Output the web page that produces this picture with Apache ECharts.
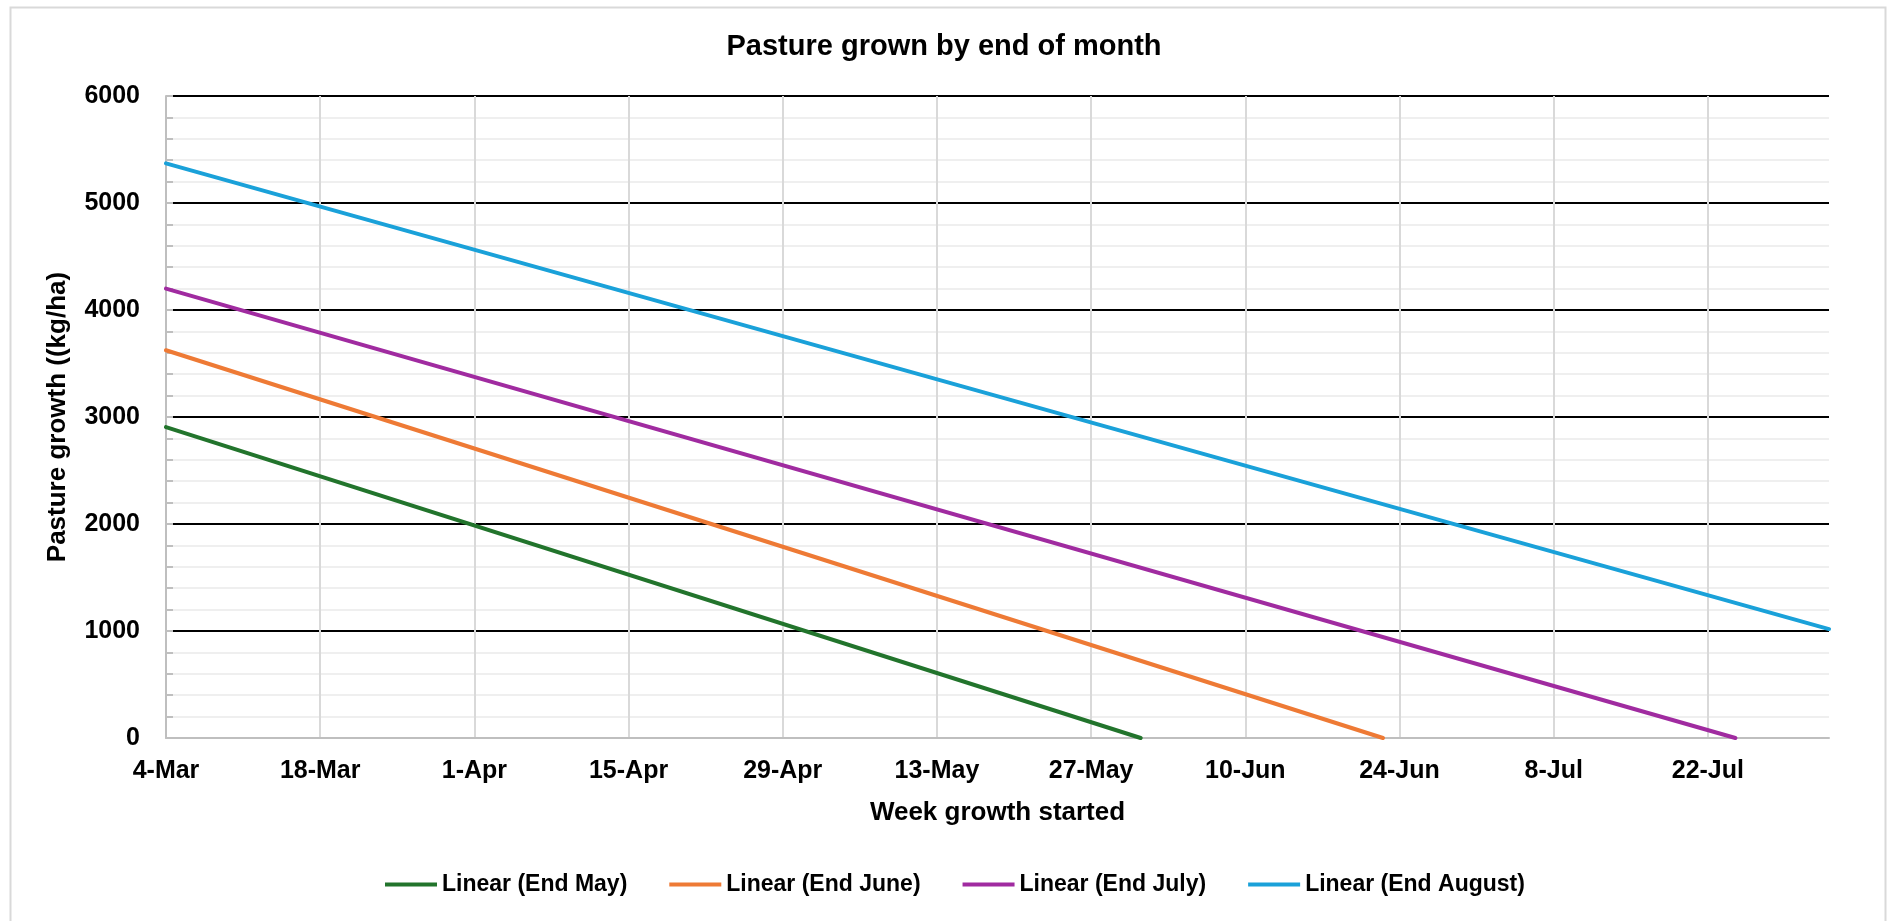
<!DOCTYPE html>
<html>
<head>
<meta charset="utf-8">
<script src="https://cdn.jsdelivr.net/npm/echarts@6/dist/echarts.min.js"></script>
<style>
html,body{margin:0;padding:0;background:#fff;}
#chart{width:1888px;height:921px;}
</style>
</head>
<body>
<div id="chart"></div>
<script>
// Tick labels along the x axis, every 14 days from 4-Mar (day 0)
const xTickLabels = ['4-Mar','18-Mar','1-Apr','15-Apr','29-Apr','13-May','27-May','10-Jun','24-Jun','8-Jul','22-Jul'];
const xTickStepDays = 14;
const xAxisEndDay = 151;
const yTickValues = [0, 1000, 2000, 3000, 4000, 5000, 6000];

const seriesNames = ['Linear (End May)', 'Linear (End June)', 'Linear (End July)', 'Linear (End August)'];
// [day since 4-Mar, pasture growth kg/ha] – linear trend lines (start point and end/zero crossing)
const endMay    = [[0, 2905], [88.5, 0]];
const endJune   = [[0, 3624], [110.5, 0]];
const endJuly   = [[0, 4200], [142.5, 0]];
const endAugust = [[0, 5371], [151, 1018]];
const seriesColors = ['#22742c', '#ee7a35', '#a02ba0', '#1aa1d9'];

const chart = echarts.init(document.getElementById('chart'), null, {renderer: 'canvas'});
const font = '"Liberation Sans", Arial, sans-serif';
const allData = [endMay, endJune, endJuly, endAugust];

const option = {
  animation: false,
  backgroundColor: '#ffffff',
  textStyle: {fontFamily: font},
  graphic: [{
    type: 'rect', left: 8, top: 5, silent: true,
    shape: {width: 1875, height: 940},
    style: {fill: 'none', stroke: '#d9d9d9', lineWidth: 2}
  }],
  title: {
    text: 'Pasture grown by end of month',
    left: 'center', top: 27,
    textStyle: {fontSize: 29, fontWeight: 'bold', color: '#000', fontFamily: font}
  },
  legend: {
    data: seriesNames,
    bottom: 20,
    left: 380,
    icon: 'rect',
    itemWidth: 52, itemHeight: 4,
    itemGap: 42,
    textStyle: {fontSize: 23, fontWeight: 'bold', color: '#000', fontFamily: font}
  },
  grid: {left: 166, right: 59, top: 96, bottom: 183, containLabel: false},
  xAxis: {
    type: 'value',
    min: 0, max: xAxisEndDay, interval: xTickStepDays,
    name: 'Week growth started',
    nameLocation: 'middle',
    nameGap: 62,
    nameTextStyle: {fontSize: 26, fontWeight: 'bold', color: '#000', fontFamily: font},
    axisLine: {show: true, lineStyle: {color: '#bfbfbf', width: 2}},
    axisTick: {show: false},
    axisLabel: {
      margin: 21, fontSize: 25, fontWeight: 'bold', color: '#000', fontFamily: font,
      showMaxLabel: false,
      formatter: v => { const i = Math.round(v / xTickStepDays); return (v % xTickStepDays === 0 && xTickLabels[i]) ? xTickLabels[i] : ''; }
    },
    splitLine: {show: true, showMaxLine: false, lineStyle: {color: '#d9d9d9', width: 2}}
  },
  yAxis: {
    type: 'value',
    min: yTickValues[0], max: yTickValues[yTickValues.length - 1], interval: yTickValues[1] - yTickValues[0],
    name: 'Pasture growth ((kg/ha)',
    nameLocation: 'middle',
    nameGap: 95,
    nameTextStyle: {fontSize: 26, fontWeight: 'bold', color: '#000', fontFamily: font},
    axisLine: {show: true, lineStyle: {color: '#bfbfbf', width: 2}},
    axisTick: {show: true, inside: true, length: 7, lineStyle: {color: '#bfbfbf', width: 2}},
    minorTick: {show: true, splitNumber: 5, length: 7, lineStyle: {color: '#bfbfbf', width: 2}},
    axisLabel: {margin: 26, fontSize: 25, fontWeight: 'bold', color: '#000', fontFamily: font,
      formatter: v => String(v)},
    splitLine: {show: true, showMinLine: false, lineStyle: {color: '#000', width: 2}},
    minorSplitLine: {show: true, lineStyle: {color: '#efefef', width: 2}}
  },
  series: allData.map((d, i) => ({
    name: seriesNames[i],
    type: 'line',
    data: d,
    showSymbol: false,
    symbol: 'none',
    clip: true,
    color: seriesColors[i],
    lineStyle: {width: 4, color: seriesColors[i], cap: 'round'},
    itemStyle: {color: seriesColors[i]},
    emphasis: {disabled: true}
  }))
};
chart.setOption(option);
</script>
</body>
</html>
